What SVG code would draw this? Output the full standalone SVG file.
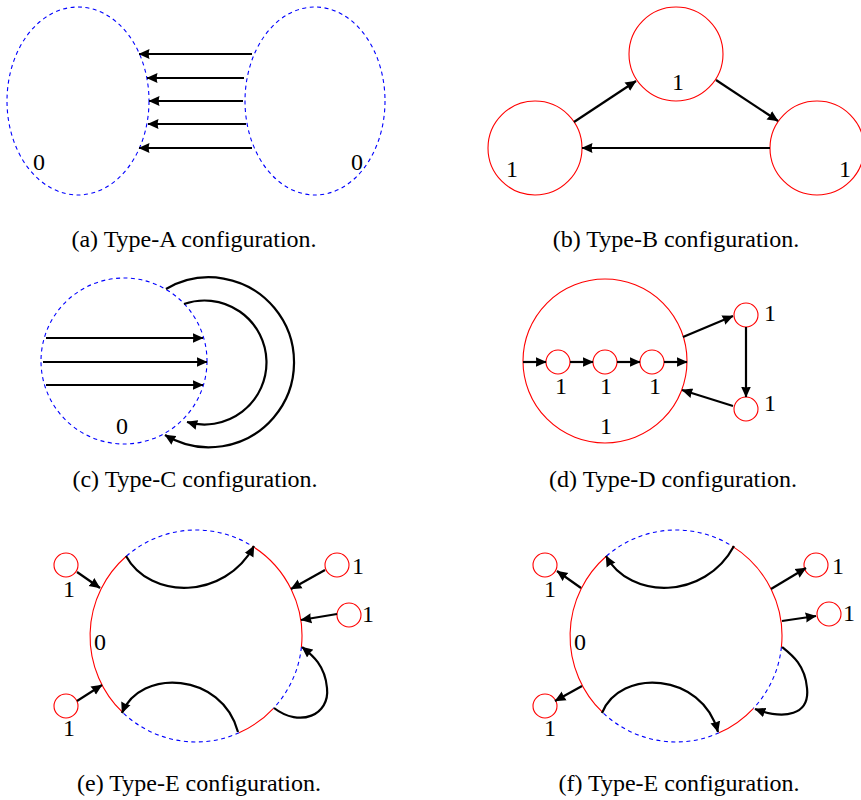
<svg xmlns="http://www.w3.org/2000/svg" width="861" height="800" viewBox="0 0 861 800">
<defs>
<marker id="ah" viewBox="0 0 11 11" markerWidth="11" markerHeight="11" refX="10.5" refY="5.5" orient="auto" markerUnits="userSpaceOnUse">
<path d="M0,0.5 L11,5.5 L0,10.5 Q1.5,5.5 0,0.5 Z" fill="#000"/>
</marker>
</defs>
<style>
text{font-family:"Liberation Serif","Times New Roman",serif;font-size:24px;fill:#000;text-anchor:middle}
.red{fill:none;stroke:#ff0000;stroke-width:1.1}
.blue{fill:none;stroke:#0000ff;stroke-width:1.1;stroke-dasharray:4 3.5}
.arr{fill:none;stroke:#000;stroke-width:2.2;marker-end:url(#ah)}
</style>
<rect width="861" height="800" fill="#fff"/>

<!-- (a) -->
<g id="a-left"><ellipse class="blue" cx="78" cy="101" rx="71" ry="94"/><text x="39" y="170">0</text></g>
<g id="a-right"><ellipse class="blue" cx="315" cy="101" rx="70" ry="94"/><text x="357" y="170">0</text></g>
<g id="a-edges">
<path class="arr" d="M252,54 L139,54"/>
<path class="arr" d="M244,78 L147,78"/>
<path class="arr" d="M243,101 L149,101"/>
<path class="arr" d="M246,124 L148,124"/>
<path class="arr" d="M252,148 L139,148"/>
</g>
<text id="cap-a" x="194" y="247">(a) Type-A configuration.</text>

<!-- (b) -->
<g id="b-top"><circle class="red" cx="676" cy="54" r="47"/><text x="678" y="90">1</text></g>
<g id="b-left"><circle class="red" cx="535" cy="148" r="47"/><text x="512" y="177">1</text></g>
<g id="b-right"><circle class="red" cx="817" cy="148" r="47"/><text x="845" y="177">1</text></g>
<g id="b-edges">
<path class="arr" d="M574,122 L636,81"/>
<path class="arr" d="M716,80 L778,121"/>
<path class="arr" d="M770,148 L582,148"/>
</g>
<text id="cap-b" x="676" y="247">(b) Type-B configuration.</text>

<!-- (c) -->
<g id="c-node"><circle class="blue" cx="124" cy="361" r="83"/><text x="122" y="434">0</text></g>
<g id="c-edges">
<path class="arr" d="M46,338 L203,338"/>
<path class="arr" d="M43,362 L207,362"/>
<path class="arr" d="M46,385 L203,385"/>
<path class="arr" d="M184,304 A62,62 0 1 1 187,422"/>
<path class="arr" d="M166,289 A85,85 0 1 1 165,435"/>
</g>
<text id="cap-c" x="195" y="487">(c) Type-C configuration.</text>

<!-- (d) -->
<g id="d-big"><circle class="red" cx="605" cy="361" r="82"/><text x="606" y="434">1</text></g>
<g id="d-s1"><circle class="red" cx="558" cy="362" r="12"/><text x="561" y="394">1</text></g>
<g id="d-s2"><circle class="red" cx="605" cy="362" r="12"/><text x="606" y="394">1</text></g>
<g id="d-s3"><circle class="red" cx="652" cy="362" r="12"/><text x="655" y="394">1</text></g>
<g id="d-r1"><circle class="red" cx="746" cy="315" r="12"/><text x="770" y="321">1</text></g>
<g id="d-r2"><circle class="red" cx="746" cy="409" r="12"/><text x="770" y="411">1</text></g>
<g id="d-edges">
<path class="arr" d="M523,362 L546,362"/>
<path class="arr" d="M570,362 L593,362"/>
<path class="arr" d="M617,362 L640,362"/>
<path class="arr" d="M664,362 L687,362"/>
<path class="arr" d="M683,337 L733,316"/>
<path class="arr" d="M746,327 L746,397"/>
<path class="arr" d="M733,406 L682,390"/>
</g>
<text id="cap-d" x="673" y="487">(d) Type-D configuration.</text>

<!-- (e) -->
<g id="e-big">
<path class="red" d="M252.2,546.1 A106,106 0 0 1 301.4,647.1"/>
<path class="red" d="M273.5,708.3 A106,106 0 0 1 239.1,732.8"/>
<path class="red" d="M122.4,712.2 A106,106 0 0 1 126.5,556"/>
<path class="blue" d="M126.5,556 A106,106 0 0 1 252.2,546.1"/>
<path class="blue" d="M301.4,647.1 A106,106 0 0 1 273.5,708.3"/>
<path class="blue" d="M239.1,732.8 A106,106 0 0 1 122.4,712.2"/>
<text x="100" y="650">0</text>
</g>
<g id="e-s1"><circle class="red" cx="66" cy="565" r="12"/><text x="69" y="597">1</text></g>
<g id="e-s2"><circle class="red" cx="337" cy="565" r="12"/><text x="358" y="574">1</text></g>
<g id="e-s3"><circle class="red" cx="349" cy="615" r="12"/><text x="368" y="622">1</text></g>
<g id="e-s4"><circle class="red" cx="66" cy="706" r="12"/><text x="69" y="736">1</text></g>
<g id="e-edges">
<path class="arr" d="M126,556 C150,600 225,600 254,546"/>
<path class="arr" d="M238,732 C222,672 140,668 122,713"/>
<path class="arr" d="M274,708 C300,728 330,715 327,688 C325,665 312,655 302,647"/>
<path class="arr" d="M77,572 L100,588"/>
<path class="arr" d="M325,570 L291,589"/>
<path class="arr" d="M337,614 L301,620"/>
<path class="arr" d="M77,701 L102,685"/>
</g>
<text id="cap-e" x="199" y="791">(e) Type-E configuration.</text>

<!-- (f) -->
<g id="f-big">
<path class="red" d="M732.2,546.1 A106,106 0 0 1 781.4,647.1"/>
<path class="red" d="M753.5,708.3 A106,106 0 0 1 719.1,732.8"/>
<path class="red" d="M602.4,712.2 A106,106 0 0 1 606.5,556"/>
<path class="blue" d="M606.5,556 A106,106 0 0 1 732.2,546.1"/>
<path class="blue" d="M781.4,647.1 A106,106 0 0 1 753.5,708.3"/>
<path class="blue" d="M719.1,732.8 A106,106 0 0 1 602.4,712.2"/>
<text x="580" y="650">0</text>
</g>
<g id="f-s1"><circle class="red" cx="545" cy="565" r="12"/><text x="550" y="597">1</text></g>
<g id="f-s2"><circle class="red" cx="816" cy="565" r="12"/><text x="838" y="574">1</text></g>
<g id="f-s3"><circle class="red" cx="829" cy="614" r="12"/><text x="849" y="621">1</text></g>
<g id="f-s4"><circle class="red" cx="545" cy="706" r="12"/><text x="550" y="736">1</text></g>
<g id="f-edges">
<path class="arr" d="M734,546 C705,600 630,600 606,556"/>
<path class="arr" d="M602,713 C620,668 702,672 718,732"/>
<path class="arr" d="M782,647 C792,655 805,665 807,688 C810,715 785,720 755,709"/>
<path class="arr" d="M581,588 L557,571"/>
<path class="arr" d="M771,589 L806,568"/>
<path class="arr" d="M782,621 L816,616"/>
<path class="arr" d="M582,686 L555,701"/>
</g>
<text id="cap-f" x="679" y="791">(f) Type-E configuration.</text>
</svg>
